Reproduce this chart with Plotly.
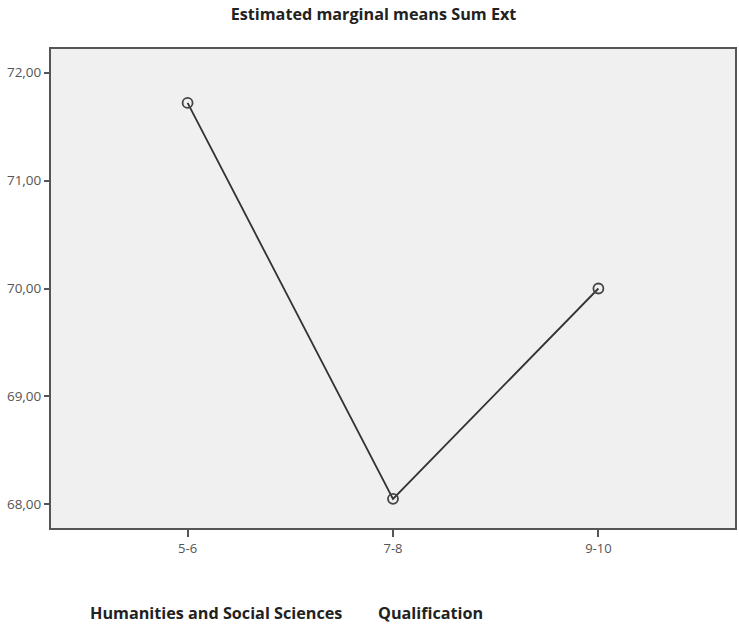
import plotly.graph_objects as go

categories = ["5-6", "7-8", "9-10"]
means = [71.72, 68.05, 70.00]
y_ticks = [68, 69, 70, 71, 72]

fig = go.Figure()
fig.add_trace(go.Scatter(
    x=categories, y=means, mode="lines+markers",
    line=dict(color="#333333", width=1.8),
    marker=dict(symbol="circle-open", size=10, color="#444444", line=dict(width=1.8)),
    showlegend=False,
))

fig.update_layout(
    width=739, height=624,
    margin=dict(l=51, r=2, t=49, b=96),
    paper_bgcolor="white",
    plot_bgcolor="#f0f0f0",
    separators=", ",
    font=dict(family="Open Sans", color="#444444", size=13),
    title=dict(text="<b>Estimated marginal means Sum Ext</b>", x=373.5 / 739, xanchor="center",
               y=1 - 14 / 624, yanchor="middle", font=dict(family="Open Sans", size=16.2, color="#222222")),
    xaxis=dict(
        type="category", range=[-0.665, 2.665],
        showline=True, mirror=True, linecolor="#555555", linewidth=2,
        showgrid=False, zeroline=False,
        ticks="outside", ticklen=7, tickcolor="#555555", tickwidth=2,
        tickfont=dict(size=13, color="#555555"),
    ),
    yaxis=dict(
        range=[67.78, 72.22], tickvals=y_ticks, tickformat=".2f",
        showline=True, mirror=True, linecolor="#555555", linewidth=2,
        showgrid=False, zeroline=False,
        ticks="outside", ticklen=5, tickcolor="#555555", tickwidth=2,
        tickfont=dict(size=13.5, color="#555555"),
    ),
)

fig.add_annotation(text="<b>Humanities and Social Sciences</b>", xref="paper", yref="paper",
                   x=(88 - 51) / 686, y=-(613 - 528) / 479, xanchor="left", yanchor="middle",
                   showarrow=False, font=dict(family="Open Sans", size=16.2, color="#222222"))
fig.add_annotation(text="<b>Qualification</b>", xref="paper", yref="paper",
                   x=(377 - 51) / 686, y=-(613 - 528) / 479, xanchor="left", yanchor="middle",
                   showarrow=False, font=dict(family="Open Sans", size=16.2, color="#222222"))

fig.write_html("out.html", config={"displayModeBar": False},
               post_script="document.body.style.margin='0';document.body.style.overflow='hidden';")
